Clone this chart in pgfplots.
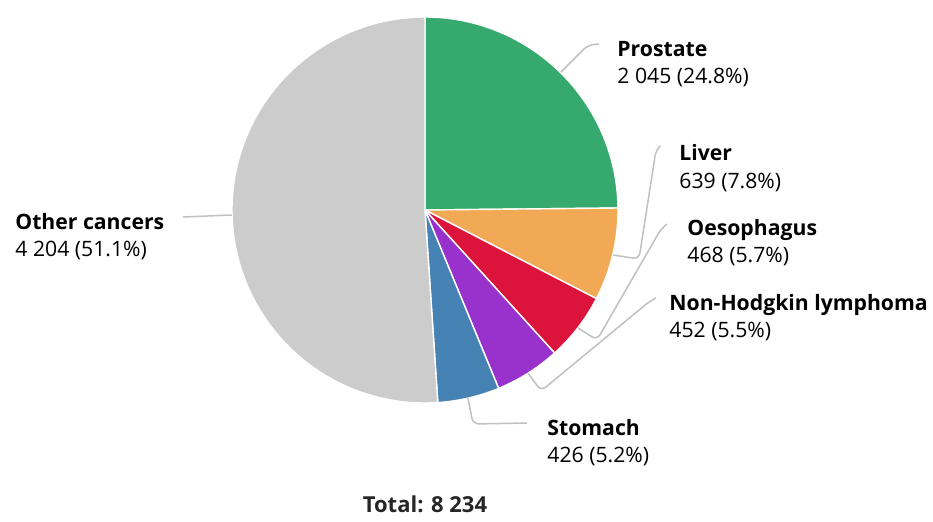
\documentclass[border=0pt]{standalone}
\usepackage{pgfplots}
\usepackage{pgfplotstable}
\pgfplotsset{compat=1.18}
\usepackage{fontspec}
\setmainfont{Open Sans}

\definecolor{cProstate}{HTML}{36A96E}
\definecolor{cLiver}{HTML}{F2A955}
\definecolor{cOeso}{HTML}{DC143C}
\definecolor{cNHL}{HTML}{9932CC}
\definecolor{cStomach}{HTML}{4682B4}
\definecolor{cOther}{HTML}{CCCCCC}
\definecolor{leader}{HTML}{C0C0C0}

% slices clockwise from 12 o'clock
\pgfplotstableread{
name     count colour
Prostate 2045  cProstate
Liver    639   cLiver
Oeso     468   cOeso
NHL      452   cNHL
Stomach  426   cStomach
Other    4204  cOther
}\piedata

\begin{document}
\begin{tikzpicture}
\begin{axis}[
    width=466.5pt, height=260.5pt, scale only axis,
    xmin=0, xmax=933, ymin=0, ymax=521,
    y dir=reverse,
    hide axis, clip=false,
  ]
  % pixel-like frame, centre of pie at (425,210), radius 193 px = 96.5pt
  \pgfplotsextra{
    \gdef\tot{0}
    \foreach \i in {0,...,5}{
      \pgfplotstablegetelem{\i}{count}\of\piedata
      \pgfmathsetmacro\t{\tot+\pgfplotsretval}
      \xdef\tot{\t}
    }
    \gdef\cum{0}
    \foreach \i in {0,...,5}{
      \pgfplotstablegetelem{\i}{count}\of\piedata
      \let\v\pgfplotsretval
      \pgfplotstablegetelem{\i}{colour}\of\piedata
      \let\col\pgfplotsretval
      \pgfmathsetmacro\sa{90-360*(\cum/\tot)}
      \pgfmathsetmacro\ea{90-360*((\cum+\v)/\tot)}
      \fill[\col, draw=white, line width=0.7pt, line join=round]
        (axis cs:425,210) -- ++(\sa:96.5pt)
        arc[start angle=\sa, end angle=\ea, radius=96.5pt] -- cycle;
      \pgfmathsetmacro\c{\cum+\v}
      \xdef\cum{\c}
    }
  }

  % leader lines
  \draw[leader, line width=0.75pt, rounded corners=3pt]
    (axis cs:561,72) -- (axis cs:588,45) -- (axis cs:599,44);
  \draw[leader, line width=0.75pt, rounded corners=3pt]
    (axis cs:613,255) -- (axis cs:639,259) -- (axis cs:656,150) -- (axis cs:660,146);
  \draw[leader, line width=0.75pt, rounded corners=3pt]
    (axis cs:578,328) -- (axis cs:597,340) -- (axis cs:661,229) -- (axis cs:667,224);
  \draw[leader, line width=0.75pt, rounded corners=3pt]
    (axis cs:528,373) -- (axis cs:541,391) -- (axis cs:650,301) -- (axis cs:656,298);
  \draw[leader, line width=0.75pt, rounded corners=3pt]
    (axis cs:468,398) -- (axis cs:473,424) -- (axis cs:527,423);
  \draw[leader, line width=0.75pt]
    (axis cs:232,215) -- (axis cs:183,217);

  % labels
  \tikzset{lab/.style={anchor=base west, inner sep=0pt, font=\fontsize{10.6}{12}\selectfont, text=black}}
  \node[lab] at (axis cs:617,56) {\textbf{Prostate}};
  \node[lab] at (axis cs:617,83) {2 045 (24.8\%)};
  \node[lab] at (axis cs:679,160) {\textbf{Liver}};
  \node[lab] at (axis cs:679,188) {639 (7.8\%)};
  \node[lab] at (axis cs:687,235) {\textbf{Oesophagus}};
  \node[lab] at (axis cs:687,262) {468 (5.7\%)};
  \node[lab] at (axis cs:669,310) {\textbf{Non-Hodgkin lymphoma}};
  \node[lab] at (axis cs:669,337) {452 (5.5\%)};
  \node[lab] at (axis cs:547,435) {\textbf{Stomach}};
  \node[lab] at (axis cs:547,462) {426 (5.2\%)};
  \node[lab] at (axis cs:15,229) {\textbf{Other cancers}};
  \node[lab] at (axis cs:15,256) {4 204 (51.1\%)};
  \node[anchor=base, inner sep=0pt, font=\fontsize{11}{12}\selectfont\bfseries, text=black!85]
    at (axis cs:425,512) {Total: 8 234};
\end{axis}
\pgfresetboundingbox
\path (current axis.south west) rectangle (current axis.north east);
\end{tikzpicture}
\end{document}
